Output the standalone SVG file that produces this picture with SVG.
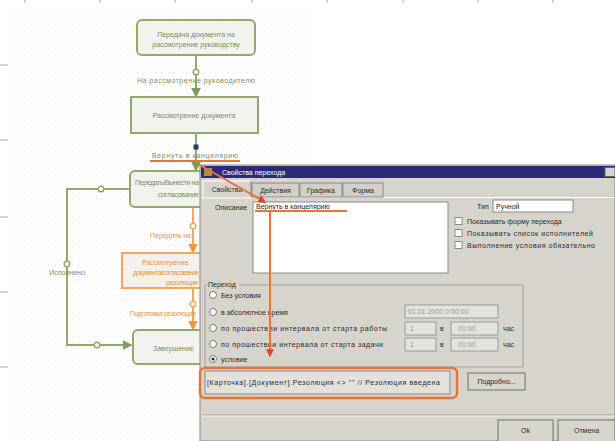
<svg xmlns="http://www.w3.org/2000/svg" width="615" height="441" viewBox="0 0 615 441">
<defs>
<pattern id="grid" width="6" height="6" patternUnits="userSpaceOnUse">
<rect x="0" y="0" width="1" height="1" fill="#e6e6e6"/>
</pattern>
<marker id="ag" viewBox="0 0 6 6" refX="5" refY="3" markerWidth="5" markerHeight="5" orient="auto">
<path d="M0,0 L6,3 L0,6 z" fill="#7e9c5a"/>
</marker>
<marker id="ao" viewBox="0 0 6 6" refX="5" refY="3" markerWidth="5" markerHeight="5" orient="auto">
<path d="M0,0 L6,3 L0,6 z" fill="#ee9a4a"/>
</marker>
<marker id="ar" viewBox="0 0 6 6" refX="5" refY="3" markerWidth="4" markerHeight="4" orient="auto">
<path d="M0,0 L6,3 L0,6 z" fill="#e0452a"/>
</marker>
</defs>
<style>
.ng{fill:#f2f2ee;stroke:#8eab68;stroke-width:2}
.no{fill:#f4f1ec;stroke:#f2a85a;stroke-width:2}
.t{font-family:"Liberation Sans",Arial,sans-serif;font-size:7px}
.tg{fill:#7a8f60}
.to{fill:#e8963c}
.cg{stroke:#8eab68;stroke-width:2;fill:none}
.co{stroke:#f2a85a;stroke-width:2;fill:none}
.dg{fill:#fff;stroke:#8eab68;stroke-width:1.5}
.do{fill:#fff;stroke:#f2a85a;stroke-width:1.5}
.hl{stroke:#e8743a;stroke-width:2;fill:none}
.dt{font-family:"Liberation Sans",Arial,sans-serif;font-size:7px;fill:#2a2a2a}
.field{fill:#fff;stroke:#8a8a8a;stroke-width:1}
.dis{fill:#e4e2dc;stroke:#9a9a9a;stroke-width:1}
.btn{fill:#d8d5cd;stroke:#6e6e6e;stroke-width:1}
.tick{stroke:#a8a8a8;stroke-width:1}
</style>
<rect width="615" height="441" fill="#ffffff"/>
<rect x="10" y="8" width="300" height="433" fill="url(#grid)"/>
<g id="rulers">
<line class="tick" x1="0" y1="65" x2="8" y2="65"/>
<line class="tick" x1="0" y1="140" x2="8" y2="140"/>
<line class="tick" x1="0" y1="217" x2="8" y2="217"/>
<line class="tick" x1="0" y1="292" x2="8" y2="292"/>
<line class="tick" x1="0" y1="367" x2="8" y2="367"/>
<line class="tick" x1="25" y1="0" x2="25" y2="3"/>
<line class="tick" x1="100" y1="0" x2="100" y2="3"/>
<line class="tick" x1="175" y1="0" x2="175" y2="3"/>
<line class="tick" x1="252" y1="0" x2="252" y2="3"/>
<line class="tick" x1="327" y1="0" x2="327" y2="3"/>
<line class="tick" x1="403" y1="0" x2="403" y2="3"/>
<line class="tick" x1="478" y1="0" x2="478" y2="3"/>
<line class="tick" x1="553" y1="0" x2="553" y2="3"/>
</g>
<g id="connectors">
<line class="cg" x1="196" y1="55" x2="196" y2="96" marker-end="url(#ag)"/>
<circle class="dg" cx="196" cy="72" r="2.8"/>
<text class="t tg" x="196" y="83" text-anchor="middle" textLength="118">На рассмотрение руководителю</text>
<line class="cg" x1="196" y1="133" x2="196" y2="170" marker-end="url(#ag)"/>
<rect x="193.5" y="144.5" width="5" height="5" fill="#2c3570"/>
<text class="t tg" x="195" y="158" text-anchor="middle" textLength="86">Вернуть в канцелярию</text>
<line class="hl" x1="150" y1="161" x2="240" y2="161"/>
<path class="cg" d="M130,189 H67 V345 H131" marker-end="url(#ag)"/>
<circle class="dg" cx="101" cy="189" r="2.8"/>
<circle class="dg" cx="67" cy="264" r="2.8"/>
<circle class="dg" cx="97" cy="345" r="2.8"/>
<text class="t tg" x="67" y="275" text-anchor="middle">Исполнено</text>
<line class="co" x1="193" y1="207" x2="193" y2="252" marker-end="url(#ao)"/>
<circle class="do" cx="193" cy="226" r="2.8"/>
<text class="t to" x="150" y="238">Передать на</text>
<line class="co" x1="193" y1="288" x2="193" y2="329" marker-end="url(#ao)"/>
<circle class="do" cx="193" cy="304" r="2.8"/>
<text class="t to" x="130" y="316" textLength="66">Подготовка резолюции</text>
</g>
<g id="node-transfer">
<rect class="ng" x="137" y="20" width="118" height="35" rx="5"/>
<text class="t tg" x="196" y="37" text-anchor="middle">Передача документа на</text>
<text class="t tg" x="196" y="47" text-anchor="middle">рассмотрение руководству</text>
</g>
<g id="node-review">
<rect class="ng" x="131" y="97" width="127" height="36"/>
<text class="t tg" x="194" y="118" text-anchor="middle">Рассмотрение документа</text>
</g>
<g id="node-send">
<rect class="ng" x="130" y="171" width="140" height="36" rx="5"/>
<text class="t tg" x="135" y="185" textLength="64">Передать/Вынести на</text>
<text class="t tg" x="158" y="197" textLength="41">согласование</text>
</g>
<g id="node-approve">
<rect class="no" x="122" y="253" width="140" height="35"/>
<text class="t to" x="142" y="265">Рассмотрение</text>
<text class="t to" x="133" y="275" textLength="66">документа/согласование</text>
<text class="t to" x="166" y="285" textLength="32">резолюции</text>
</g>
<g id="node-finish">
<rect class="ng" x="133" y="330" width="140" height="34" rx="5"/>
<text class="t tg" x="153" y="351">Завершение</text>
</g>
<g id="dialog">
<rect x="200" y="165" width="415" height="276" fill="#d7d4cc" stroke="#8a8a8a"/>
<rect x="201" y="166" width="414" height="12" fill="#2b2a78"/>
<rect x="204" y="168" width="8" height="8" fill="#7aa050"/>
<path d="M204,168 L212,176 M212,168 L204,176" stroke="#e8743a" stroke-width="1.5"/>
<text class="dt" x="222" y="175" style="fill:#fff">Свойства перехода</text>
<rect x="605" y="167.5" width="10" height="9" fill="#d7d4cc" stroke="#666"/>
<line x1="202" y1="197.5" x2="615" y2="197.5" stroke="#fff"/>
<rect x="203" y="181" width="48" height="17" fill="#d7d4cc" stroke="#fff"/>
<line x1="251" y1="181" x2="251" y2="197" stroke="#666"/>
<text class="dt" x="227" y="192" text-anchor="middle">Свойства</text>
<rect x="252" y="183" width="47" height="14" fill="#d2cfc7" stroke="#888"/>
<text class="dt" x="275.5" y="193" text-anchor="middle">Действия</text>
<rect x="300" y="183" width="42" height="14" fill="#d2cfc7" stroke="#888"/>
<text class="dt" x="321" y="193" text-anchor="middle">Графика</text>
<rect x="343" y="183" width="40" height="14" fill="#d2cfc7" stroke="#888"/>
<text class="dt" x="363" y="193" text-anchor="middle">Форма</text>
<text class="dt" x="215" y="210">Описание</text>
<rect class="field" x="253" y="202" width="195" height="71"/>
<text class="dt" x="256" y="209">Вернуть в канцелярию</text>
<text class="dt" x="477" y="209">Тип</text>
<rect class="field" x="493" y="200" width="80" height="12"/>
<text class="dt" x="496" y="209">Ручной</text>
<rect class="field" x="455" y="217.5" width="7" height="7"/>
<text class="dt" x="467" y="224">Показывать форму перехода</text>
<rect class="field" x="455" y="229.5" width="7" height="7"/>
<text class="dt" x="467" y="236" textLength="126">Показывать список исполнителей</text>
<rect class="field" x="455" y="241.5" width="7" height="7"/>
<text class="dt" x="467" y="248" textLength="128">Выполнение условия обязательно</text>
<rect x="205" y="285" width="318" height="82" fill="none" stroke="#a5a29a"/>
<rect x="207" y="280" width="32" height="8" fill="#d7d4cc"/>
<text class="dt" x="208" y="287">Переход</text>
<g fill="#fff" stroke="#7a7a7a">
<circle cx="213" cy="295" r="3.5"/>
<circle cx="213" cy="312" r="3.5"/>
<circle cx="213" cy="328" r="3.5"/>
<circle cx="213" cy="344" r="3.5"/>
<circle cx="213" cy="359" r="3.5"/>
</g>
<circle cx="213" cy="359" r="1.5" fill="#222"/>
<text class="dt" x="221" y="298">Без условия</text>
<text class="dt" x="221" y="315">в абсолютное время</text>
<text class="dt" x="221" y="331" textLength="166">по прошествии интервала от старта работы</text>
<text class="dt" x="221" y="347" textLength="162">по прошествии интервала от старта задачи</text>
<text class="dt" x="221" y="362">условие</text>
<rect class="dis" x="405" y="305" width="93" height="13"/>
<text class="dt" x="408" y="314" style="fill:#9a9a9a">01.01.2000 0:00:00</text>
<rect class="dis" x="405" y="322" width="31" height="13"/>
<text class="dt" x="440" y="331">в</text>
<rect class="dis" x="451" y="322" width="47" height="13"/>
<text class="dt" x="503" y="331">час</text>
<rect class="dis" x="405" y="338" width="31" height="13"/>
<text class="dt" x="440" y="347">в</text>
<rect class="dis" x="451" y="338" width="47" height="13"/>
<text class="dt" x="503" y="347">час</text>
<text class="dt" x="410" y="331" style="fill:#9a9a9a">1</text>
<text class="dt" x="410" y="347" style="fill:#9a9a9a">1</text>
<text class="dt" x="458" y="331" style="fill:#9a9a9a">00:00</text>
<text class="dt" x="458" y="347" style="fill:#9a9a9a">00:00</text>
<rect x="205" y="371" width="245" height="23" fill="#e3e1db" stroke="#8a8a8a"/>
<text class="dt" x="207" y="385" textLength="233">[Карточка].[Документ].Резолюция &lt;&gt; "" // Резолюция введена</text>
<rect x="468" y="373" width="57" height="17" class="btn" stroke-width="1.5"/>
<text class="dt" x="496.5" y="384" text-anchor="middle">Подробно...</text>
<line x1="202" y1="415" x2="615" y2="415" stroke="#9a9890"/>
<line x1="202" y1="416" x2="615" y2="416" stroke="#f4f3ef"/>
<rect class="btn" x="498" y="420" width="55" height="22"/>
<text class="dt" x="525.5" y="433" text-anchor="middle">Ok</text>
<rect class="btn" x="558" y="420" width="57" height="22"/>
<text class="dt" x="586.5" y="433" text-anchor="middle">Отмена</text>
</g>
<g id="highlights">
<line class="hl" x1="198" y1="164" x2="265" y2="202" marker-end="url(#ar)"/>
<line class="hl" x1="255" y1="211" x2="347" y2="211"/>
<line class="hl" x1="270" y1="211" x2="270" y2="356" marker-end="url(#ar)"/>
<rect x="200" y="368" width="257" height="30" rx="5" fill="none" stroke="#e8743a" stroke-width="2.5"/>
</g>
</svg>
